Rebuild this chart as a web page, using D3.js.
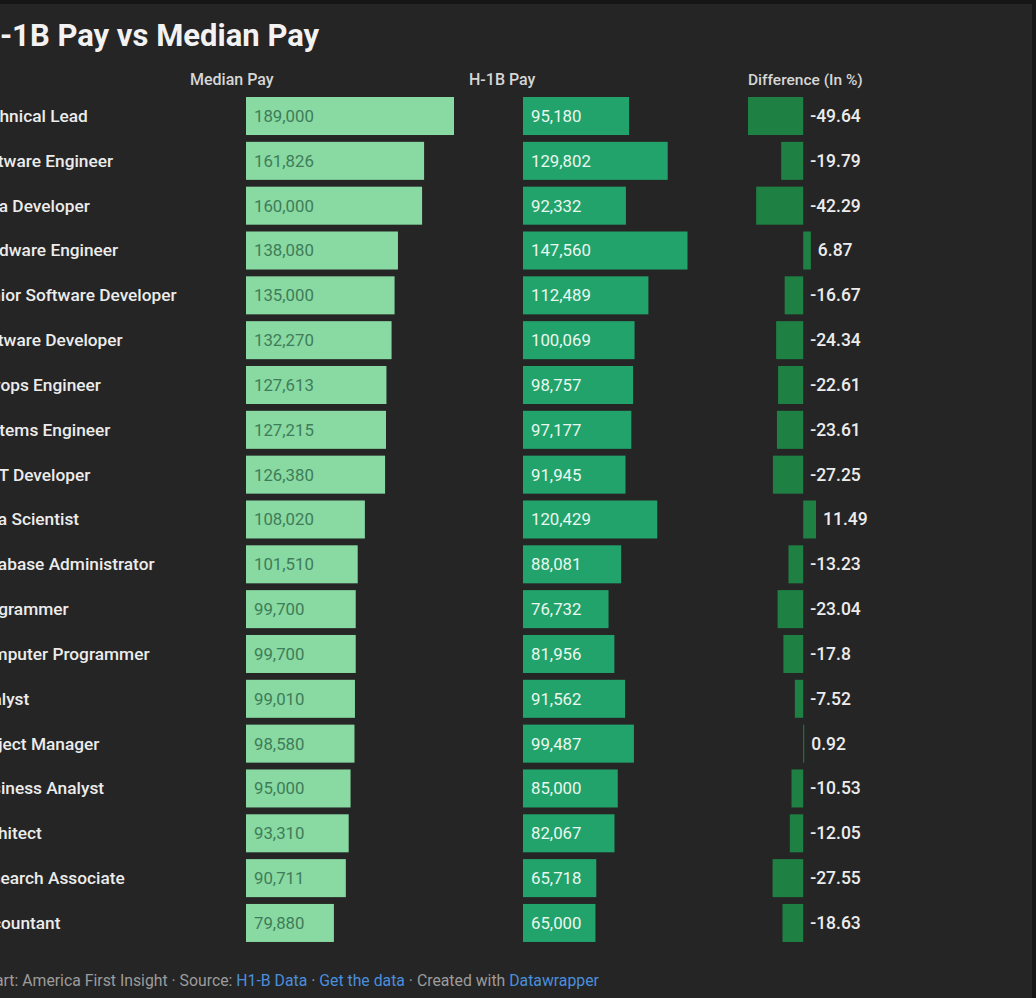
<!DOCTYPE html>
<html>
<head>
<meta charset="utf-8">
<script src="https://cdn.jsdelivr.net/npm/d3@7"></script>
<style>
  html, body { margin: 0; padding: 0; background: #252525; }
  svg { display: block; font-family: Roboto, "Noto Sans", sans-serif; }
</style>
</head>
<body>
<div id="chart"></div>
<script>
const jobs = [
  "Technical Lead",
  "Software Engineer",
  "Java Developer",
  "Hardware Engineer",
  "Senior Software Developer",
  "Software Developer",
  "Devops Engineer",
  "Systems Engineer",
  ".NET Developer",
  "Data Scientist",
  "Database Administrator",
  "Programmer",
  "Computer Programmer",
  "Analyst",
  "Project Manager",
  "Business Analyst",
  "Architect",
  "Research Associate",
  "Accountant",
];
const medianPay = [189000, 161826, 160000, 138080, 135000, 132270, 127613, 127215, 126380,
  108020, 101510, 99700, 99700, 99010, 98580, 95000, 93310, 90711, 79880];
const h1bPay = [95180, 129802, 92332, 147560, 112489, 100069, 98757, 97177, 91945,
  120429, 88081, 76732, 81956, 91562, 99487, 85000, 82067, 65718, 65000];
const diffPct = [-49.64, -19.79, -42.29, 6.87, -16.67, -24.34, -22.61, -23.61, -27.25,
  11.49, -13.23, -23.04, -17.8, -7.52, 0.92, -10.53, -12.05, -27.55, -18.63];

const rows = jobs.map((job, i) => ({
  job,
  median: medianPay[i],
  h1b: h1bPay[i],
  diff: diffPct[i],
}));

const width = 1036;
const height = 998;
const fmt = d3.format(",");

const svg = d3.select("#chart")
  .append("svg")
  .attr("width", width)
  .attr("height", height);

svg.append("rect")
  .attr("width", width)
  .attr("height", height)
  .attr("fill", "#252525");

// frame edges of the screenshot
svg.append("rect").attr("x", 0).attr("y", 0).attr("width", width).attr("height", 4).attr("fill", "#161616");
svg.append("rect").attr("x", width - 4).attr("y", 0).attr("width", 4).attr("height", height).attr("fill", "#161616");

const step = 44.83;
const y = d3.scaleBand()
  .domain(jobs)
  .range([93.6, 93.6 + step * jobs.length])
  .paddingInner(0.152)
  .paddingOuter(0.076);

const xMedian = d3.scaleLinear()
  .domain([0, d3.max(medianPay)])
  .range([246, 454]);

const xH1b = d3.scaleLinear()
  .domain([0, d3.max(h1bPay)])
  .range([523, 687.5]);

const xDiff = d3.scaleLinear()
  .domain([d3.min(diffPct), d3.max(diffPct)])
  .range([748, 816]);

// title
svg.append("text")
  .attr("x", -22)
  .attr("y", 46)
  .attr("fill", "#f2f2f2")
  .attr("font-size", 31)
  .attr("font-weight", 700)
  .text("H-1B Pay vs Median Pay");

// column headers
const headers = svg.append("g")
  .attr("fill", "#d6d6d6")
  .attr("font-size", 16)
  .attr("font-weight", 500);
headers.append("text").attr("x", 190).attr("y", 85).text("Median Pay");
headers.append("text").attr("x", 469).attr("y", 85).text("H-1B Pay");
headers.append("text").attr("x", 748).attr("y", 85).attr("font-size", 15.5).text("Difference (In %)");

const row = svg.append("g")
  .selectAll("g")
  .data(rows)
  .join("g")
  .attr("transform", (d) => `translate(0,${y(d.job)})`);

const bh = y.bandwidth();

// row labels
row.append("text")
  .attr("x", -28.5)
  .attr("y", bh / 2 + 6)
  .attr("fill", "#ececec")
  .attr("font-size", 17.3)
  .attr("font-weight", 500)
  .text((d) => d.job);

// median pay bars
row.append("rect")
  .attr("x", xMedian(0))
  .attr("width", (d) => xMedian(d.median) - xMedian(0))
  .attr("height", bh)
  .attr("fill", "#88d9a2");

row.append("text")
  .attr("x", xMedian(0) + 8)
  .attr("y", bh / 2 + 6)
  .attr("fill", "#3f7d58")
  .attr("font-size", 16.8)
  .text((d) => fmt(d.median));

// h-1b pay bars
row.append("rect")
  .attr("x", xH1b(0))
  .attr("width", (d) => xH1b(d.h1b) - xH1b(0))
  .attr("height", bh)
  .attr("fill", "#22a36b");

row.append("text")
  .attr("x", xH1b(0) + 8)
  .attr("y", bh / 2 + 6)
  .attr("fill", "#eaf7ef")
  .attr("font-size", 16.8)
  .text((d) => fmt(d.h1b));

// difference bars
row.append("rect")
  .attr("x", (d) => Math.min(xDiff(0), xDiff(d.diff)))
  .attr("width", (d) => Math.abs(xDiff(d.diff) - xDiff(0)))
  .attr("height", bh)
  .attr("fill", "#1f8044");

row.append("text")
  .attr("x", (d) => Math.max(xDiff(0), xDiff(d.diff)) + 7)
  .attr("y", bh / 2 + 6)
  .attr("fill", "#ececec")
  .attr("font-size", 17.5)
  .attr("font-weight", 500)
  .text((d) => d.diff);

// footer
const foot = svg.append("text")
  .attr("x", -24)
  .attr("y", 986)
  .attr("font-size", 15.8)
  .attr("fill", "#9c9c9c");
foot.append("tspan").text("Chart: America First Insight · Source: ");
foot.append("tspan").attr("fill", "#4a8fdc").text("H1-B Data");
foot.append("tspan").text(" · ");
foot.append("tspan").attr("fill", "#4a8fdc").text("Get the data");
foot.append("tspan").text(" · Created with ");
foot.append("tspan").attr("fill", "#4a8fdc").text("Datawrapper");
</script>
</body>
</html>
